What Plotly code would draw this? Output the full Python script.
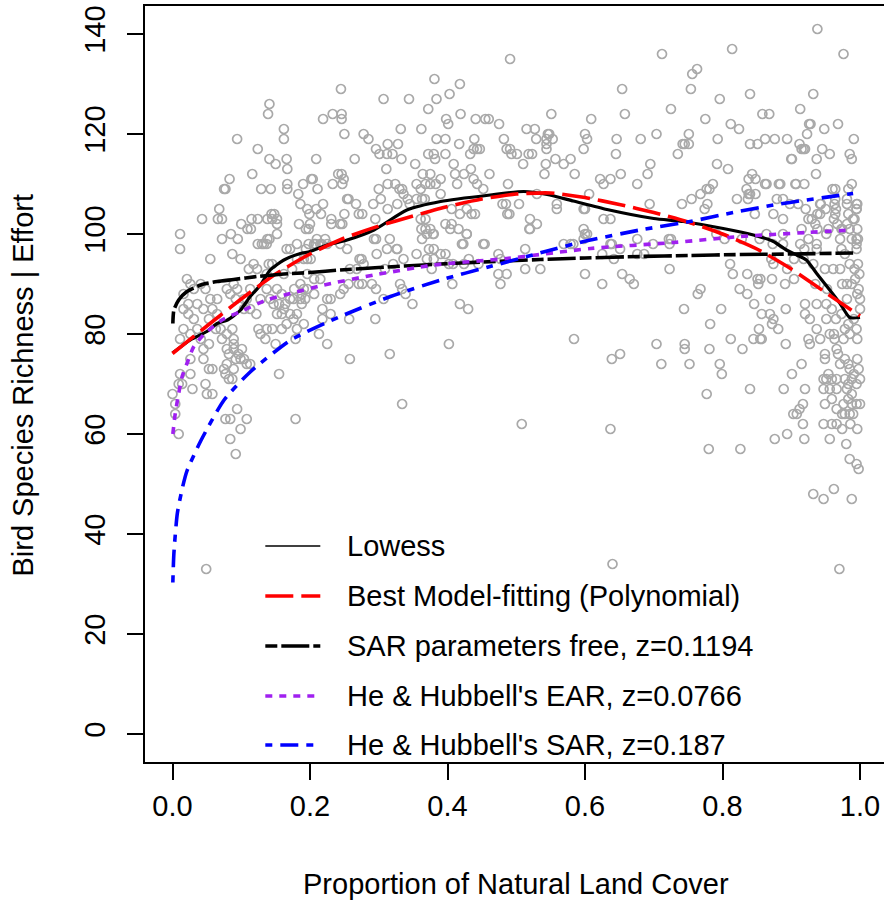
import plotly.graph_objects as go

# ---- survey sites: proportion of natural land cover vs. species richness ----
# upper-left cloud
cover_a = [0.381, 0.245, 0.141, 0.139, 0.307, 0.344, 0.384, 0.372, 0.233, 0.246,
           0.219, 0.246, 0.162, 0.162, 0.094, 0.25, 0.278, 0.285, 0.332, 0.362,
           0.384, 0.124, 0.313, 0.328, 0.296, 0.301, 0.312, 0.32, 0.372, 0.38,
           0.141, 0.15, 0.166, 0.167, 0.209, 0.265, 0.333, 0.382, 0.116, 0.311,
           0.353, 0.083, 0.075, 0.077, 0.129, 0.143, 0.167, 0.167, 0.19, 0.202,
           0.204, 0.211, 0.183, 0.233, 0.241, 0.246, 0.249, 0.247, 0.3, 0.313,
           0.324, 0.33, 0.334, 0.336, 0.355, 0.361, 0.368, 0.375, 0.364, 0.375,
           0.383, 0.068, 0.066, 0.072, 0.043, 0.1, 0.115, 0.124, 0.138, 0.144,
           0.148, 0.145, 0.152, 0.152, 0.109, 0.114, 0.186, 0.196, 0.199, 0.209,
           0.216, 0.2, 0.184, 0.194, 0.219, 0.254, 0.256, 0.267, 0.271, 0.276,
           0.25, 0.231, 0.244, 0.247, 0.231, 0.292, 0.303, 0.313, 0.327, 0.342,
           0.345, 0.355, 0.363, 0.367, 0.295, 0.361, 0.368, 0.362, 0.368, 0.011,
           0.011, 0.072, 0.085, 0.095, 0.138, 0.141, 0.152, 0.124, 0.133, 0.21,
           0.222, 0.208, 0.217, 0.225, 0.296, 0.316, 0.327, 0.379, 0.373, 0.38]
rich_a = [131, 129, 126, 124, 127, 127, 127, 125, 124, 124,
          123, 123, 121, 119, 119, 120, 120, 119, 121, 121,
          119, 117, 118, 118, 117, 116, 116, 116, 116, 116,
          115, 114, 115, 113, 115, 115, 115, 115, 112, 113,
          114, 111, 109, 109, 109, 109, 110, 109, 110, 111,
          111, 109, 108, 110, 112, 112, 111, 110, 109, 110,
          110, 109, 109, 108, 110, 109, 110, 112, 112, 110,
          110, 105, 103, 103, 103, 102, 103, 103, 103, 104,
          104, 103, 103, 102, 101, 101, 106, 105, 104, 105,
          104, 102, 102, 101, 106, 107, 107, 106, 104, 104,
          104, 103, 102, 102, 102, 106, 107, 105, 106, 107,
          106, 107, 107, 107, 103, 103, 103, 101, 101, 100,
          97, 99, 100, 99, 99, 99, 100, 98, 98, 99,
          99, 98, 98, 98, 99, 99, 97, 100, 97, 97]

# upper-right cloud
cover_b = [0.938, 0.712, 0.814, 0.976, 0.491, 0.763, 0.756, 0.754, 0.654, 0.418,
           0.403, 0.796, 0.84, 0.932, 0.725, 0.913, 0.551, 0.658, 0.419, 0.609,
           0.398, 0.401, 0.441, 0.455, 0.46, 0.475, 0.775, 0.858, 0.868, 0.926,
           0.928, 0.968, 0.812, 0.824, 0.948, 0.923, 0.515, 0.527, 0.546, 0.548,
           0.544, 0.553, 0.6, 0.603, 0.704, 0.751, 0.397, 0.439, 0.482, 0.529,
           0.646, 0.681, 0.793, 0.84, 0.851, 0.862, 0.876, 0.894, 0.991, 0.417,
           0.742, 0.745, 0.751, 0.912, 0.915, 0.92, 0.945, 0.956, 0.985, 0.988,
           0.397, 0.433, 0.438, 0.443, 0.447, 0.486, 0.491, 0.493, 0.501, 0.51,
           0.518, 0.523, 0.544, 0.544, 0.557, 0.543, 0.541, 0.569, 0.579, 0.585,
           0.598, 0.645, 0.695, 0.691, 0.652, 0.676, 0.735, 0.792, 0.808, 0.9,
           0.937, 0.936, 0.409, 0.411, 0.414, 0.424, 0.434, 0.438, 0.443, 0.452,
           0.39, 0.39, 0.461, 0.488, 0.622, 0.627, 0.637, 0.606, 0.406, 0.428,
           0.418, 0.435, 0.44, 0.397, 0.406, 0.416, 0.428, 0.48, 0.485, 0.487,
           0.49, 0.504, 0.52, 0.519, 0.53, 0.53, 0.559, 0.559, 0.598, 0.6,
           0.627, 0.637, 0.694, 0.598, 0.6, 0.722, 0.741, 0.755, 0.768, 0.777,
           0.786, 0.781, 0.774, 0.778, 0.821, 0.838, 0.843, 0.848, 0.835, 0.838,
           0.84, 0.848, 0.837, 0.862, 0.864, 0.882, 0.907, 0.919, 0.847, 0.874,
           0.888, 0.879, 0.888, 0.898, 0.91, 0.921, 0.925, 0.938, 0.943, 0.95,
           0.96, 0.964, 0.988, 0.981, 0.996, 0.995, 0.992, 0.964, 0.963, 0.965,
           0.964, 0.962, 0.967, 0.973, 0.985, 0.995, 0.997, 0.915, 0.925, 0.938,
           0.951, 0.954, 0.888, 0.864, 0.828, 0.791, 0.803, 0.699, 0.725, 0.676,
           0.637, 0.569, 0.579, 0.513, 0.452, 0.423]
rich_b = [141, 136, 137, 136, 135, 133, 132, 129, 129, 130,
          128, 127, 128, 128, 125, 125, 124, 124, 124, 123,
          123, 122, 123, 123, 123, 122, 123, 124, 124, 122,
          122, 122, 122, 121, 121, 120, 121, 121, 120, 120,
          119, 119, 120, 119, 120, 120, 119, 119, 119, 119,
          119, 119, 119, 118, 118, 119, 119, 119, 119, 118,
          118, 118, 118, 118, 117, 117, 117, 116, 116, 115,
          116, 116, 117, 117, 117, 117, 117, 116, 116, 114,
          116, 116, 117, 118, 115, 114, 112, 114, 115, 112,
          117, 116, 114, 112, 112, 110, 116, 114, 113, 115,
          115, 112, 114, 112, 110, 112, 113, 111, 110, 109,
          111, 108, 112, 110, 111, 110, 111, 108, 105, 105,
          104, 104, 104, 102, 102, 101, 100, 106, 106, 104,
          104, 106, 103, 101, 102, 108, 106, 105, 105, 105,
          103, 103, 106, 101, 100, 99, 106, 107, 108, 109,
          110, 109, 105, 106, 107, 111, 112, 111, 109, 108,
          108, 108, 107, 110, 110, 110, 110, 110, 104, 104,
          103, 107, 107, 106, 106, 105, 103, 104, 106, 105,
          109, 109, 110, 107, 106, 105, 103, 107, 106, 105,
          104, 103, 102, 101, 101, 99, 99, 101, 99, 101,
          100, 101, 100, 100, 99, 100, 99, 98, 99, 99,
          98, 98, 98, 97, 98, 98]

# sites with almost complete natural cover
cover_c = [0.884, 0.906, 0.983, 0.901, 0.918, 0.942, 0.942, 0.93, 0.935, 0.974,
           0.981, 0.995, 0.995, 0.983, 0.99, 0.981, 0.996, 0.854, 0.873, 0.888,
           0.913, 0.919, 0.937, 0.937, 0.971, 0.973, 0.988, 0.995, 0.995, 0.978,
           0.871, 0.874, 0.894, 0.904, 0.918, 0.932, 0.949, 0.961, 0.971, 0.985,
           0.992, 0.997, 0.999, 0.855, 0.872, 0.904, 0.935, 0.952, 0.974, 0.981,
           0.988, 0.993, 0.998, 0.891, 0.869, 0.857, 0.869, 0.874, 0.872, 0.881,
           0.857, 0.892, 0.892, 0.92, 0.92, 0.927, 0.937, 0.951, 0.959, 0.965,
           0.951, 0.973, 0.925, 0.927, 0.937, 0.942, 0.956, 0.962, 0.963, 0.978,
           0.985, 0.976, 0.996, 0.981, 0.996, 1.0, 1.0, 0.991, 0.983, 0.995,
           0.949, 0.949, 0.966, 0.968, 0.971, 0.978, 0.983, 0.996, 0.998, 0.985,
           0.991, 1.0, 0.915, 0.901, 0.889, 0.92, 0.947, 0.951, 0.954, 0.959,
           0.966, 0.947, 0.956, 0.966, 0.978, 0.983, 0.988, 0.995, 0.981, 0.988,
           0.983, 0.949, 0.959, 0.976, 0.988, 0.995, 1.0, 0.917, 0.912, 0.908,
           0.903, 0.966, 0.974, 0.978, 0.985, 0.99, 0.917, 0.947, 0.959, 0.966,
           0.974, 0.986, 0.996, 0.876, 0.894, 0.919, 0.956, 0.98, 0.985, 0.995,
           0.998, 0.932, 0.947, 0.962, 0.988, 0.97]
rich_c = [110, 110, 109, 115, 117, 106, 104, 103, 102, 101,
          106, 106, 105, 104, 103, 102, 101, 99, 98, 98,
          98, 97, 98, 97, 99, 97, 99, 98, 97, 96,
          95, 94, 93, 95, 95, 94, 93, 93, 93, 94,
          93, 94, 92, 91, 91, 91, 90, 89, 90, 90,
          90, 91, 89, 90, 87, 84, 84, 83, 82, 81,
          79, 85, 78, 86, 84, 83, 86, 86, 85, 83,
          83, 84, 79, 78, 81, 79, 80, 80, 79, 81,
          80, 79, 79, 87, 88, 87, 85, 83, 82, 81,
          76, 75, 77, 76, 74, 75, 74, 75, 73, 73,
          72, 71, 74, 72, 69, 69, 71, 71, 72, 71,
          71, 69, 69, 69, 71, 70, 71, 70, 69, 68,
          67, 66, 67, 66, 66, 66, 66, 66, 65, 64,
          64, 65, 64, 64, 64, 64, 62, 62, 62, 62,
          61, 62, 61, 59, 60, 59, 59, 58, 55, 54,
          53, 48, 47, 49, 47, 33]

# middle band
cover_d = [0.428, 0.404, 0.421, 0.454, 0.52, 0.583, 0.603, 0.598, 0.639, 0.651,
           0.686, 0.676, 0.723, 0.39, 0.397, 0.402, 0.408, 0.424, 0.431, 0.445,
           0.474, 0.477, 0.474, 0.486, 0.477, 0.513, 0.535, 0.625, 0.642, 0.6,
           0.625, 0.654, 0.665, 0.671, 0.723, 0.407, 0.418, 0.43, 0.402, 0.584,
           0.639, 0.651, 0.704, 0.711, 0.745, 0.745, 0.752, 0.744, 0.764, 0.768,
           0.782, 0.781, 0.798, 0.796, 0.799, 0.777, 0.811, 0.815, 0.836, 0.851,
           0.852, 0.836, 0.825, 0.846, 0.853, 0.845, 0.855, 0.812, 0.829, 0.84,
           0.826, 0.78, 0.508, 0.637, 0.64]
rich_d = [100, 101, 98, 98, 101, 98, 100, 99, 98, 97,
          96, 96, 98, 96, 96, 94, 94, 94, 95, 94,
          96, 95, 92, 92, 90, 93, 93, 96, 95, 92,
          90, 92, 91, 90, 93, 90, 86, 85, 78, 79,
          75, 76, 78, 74, 78, 77, 74, 85, 88, 89,
          82, 77, 85, 74, 72, 68, 94, 92, 92, 91,
          90, 88, 89, 86, 81, 79, 79, 79, 77, 69,
          57, 57, 62, 61, 34]

# dense low-cover cluster
cover_e = [0.055, 0.087, 0.099, 0.118, 0.13, 0.137, 0.166, 0.171, 0.181, 0.198,
           0.198, 0.196, 0.181, 0.111, 0.123, 0.137, 0.14, 0.145, 0.021, 0.026,
           0.031, 0.016, 0.041, 0.048, 0.055, 0.065, 0.084, 0.079, 0.089, 0.094,
           0.092, 0.104, 0.108, 0.113, 0.113, 0.122, 0.104, 0.128, 0.137, 0.142,
           0.147, 0.152, 0.159, 0.164, 0.171, 0.176, 0.186, 0.188, 0.155, 0.162,
           0.152, 0.159, 0.171, 0.181, 0.176, 0.137, 0.125, 0.145, 0.128, 0.135,
           0.159, 0.166, 0.181, 0.179, 0.191, 0.188, 0.193, 0.196, 0.186, 0.196,
           0.016, 0.023, 0.036, 0.023, 0.031, 0.036, 0.016, 0.045, 0.058, 0.065,
           0.053, 0.063, 0.07, 0.011, 0.026, 0.041, 0.045, 0.045, 0.026, 0.053,
           0.072, 0.079, 0.087, 0.089, 0.089, 0.089, 0.079, 0.082, 0.092, 0.096,
           0.101, 0.104, 0.108, 0.113, 0.099, 0.079, 0.075, 0.089, 0.053, 0.058,
           0.077, 0.082, 0.087, 0.048, 0.05, 0.058, 0.011, 0.026, 0.009, 0.014,
           0.029, 0.0, 0.004, 0.004, 0.009, 0.094, 0.077, 0.084, 0.108, 0.099,
           0.084, 0.155, 0.179, 0.15, 0.092, 0.049]
rich_e = [95, 96, 95, 94, 98, 98, 97, 97, 98, 101,
          98, 95, 95, 93, 93, 92, 94, 94, 91, 90,
          89, 88, 90, 89, 87, 87, 88, 89, 90, 89,
          87, 87, 87, 89, 85, 84, 85, 87, 89, 87,
          86, 89, 88, 86, 87, 87, 87, 88, 86, 85,
          84, 84, 84, 84, 83, 81, 81, 81, 80, 79,
          81, 82, 81, 79, 82, 86, 87, 89, 90, 92,
          85, 86, 86, 84, 83, 81, 81, 85, 85, 84,
          83, 81, 81, 79, 80, 79, 77, 75, 75, 78,
          79, 80, 81, 79, 78, 77, 77, 76, 75, 76,
          77, 75, 74, 74, 75, 74, 73, 73, 73, 73,
          72, 71, 71, 70, 68, 68, 72, 72, 70, 70,
          69, 68, 66, 64, 60, 65, 63, 63, 63, 61,
          59, 72, 63, 78, 56, 33]

cover_f = [0.258, 0.316, 0.334, 0.295, 0.225, 0.213, 0.349, 0.331, 0.339, 0.334,
           0.257, 0.307, 0.244, 0.23, 0.218, 0.23, 0.218, 0.296, 0.29, 0.276,
           0.271, 0.256, 0.249, 0.225, 0.206, 0.206, 0.215, 0.162, 0.177, 0.191,
           0.174, 0.272, 0.275, 0.268, 0.278, 0.258, 0.309, 0.321, 0.336, 0.355,
           0.37, 0.38, 0.377, 0.297, 0.312, 0.326, 0.293, 0.244, 0.254, 0.363,
           0.37, 0.375, 0.38, 0.191, 0.201, 0.194, 0.206, 0.215]
rich_f = [75, 76, 66, 83, 78, 80, 86, 90, 88, 89,
          83, 87, 88, 87, 85, 84, 83, 89, 90, 90,
          90, 90, 89, 87, 88, 91, 91, 92, 89, 89,
          93, 95, 95, 93, 94, 93, 93, 94, 95, 96,
          95, 95, 93, 96, 97, 97, 99, 98, 97, 99,
          100, 101, 100, 95, 95, 97, 98, 98]

cover = cover_a + cover_b + cover_c + cover_d + cover_e + cover_f
richness = rich_a + rich_b + rich_c + rich_d + rich_e + rich_f
assert len(cover) == len(richness)

# ---- fitted curves ----
lowess_x = [0.0, 0.026, 0.05, 0.065, 0.08, 0.099, 0.113, 0.128, 0.142, 0.162,
            0.186, 0.2, 0.225, 0.254, 0.293, 0.341, 0.39, 0.462, 0.511, 0.545,
            0.583, 0.632, 0.70, 0.743, 0.801, 0.845, 0.874, 0.893, 0.908, 0.922,
            0.937, 0.956, 0.971, 0.985, 1.0]
lowess_y = [76.2, 78.8, 80.5, 82.1, 82.8, 84.8, 87.5, 89.8, 92.8, 94.8,
            96.1, 96.5, 97.8, 98.8, 100.8, 104.8, 106.5, 107.8, 108.5, 107.9,
            106.6, 104.9, 103.1, 102.5, 101.1, 99.8, 98.5, 96.8, 95.8, 94.8,
            92.1, 88.8, 86.1, 83.3, 83.3]

poly_x = [0.0, 0.05, 0.1, 0.15, 0.2, 0.25, 0.3, 0.35, 0.4, 0.45, 0.5,
          0.55, 0.6, 0.65, 0.7, 0.75, 0.8, 0.85, 0.9, 0.95, 1.0]
poly_y = [76.1, 81.6, 87.0, 92.0, 96.0, 99.2, 101.6, 103.6, 105.5, 107.0, 108.0,
          108.2, 107.3, 105.9, 104.3, 102.4, 100.0, 97.0, 93.0, 88.3, 83.6]

sar_free_x = [0.0005, 0.002, 0.009, 0.021, 0.041, 0.065, 0.089, 0.123, 0.162, 0.2,
              0.244, 0.3, 0.39, 0.45, 0.535, 0.6, 0.68, 0.75, 0.826, 0.9, 0.99]
sar_free_y = [82.1, 84.8, 86.8, 88.5, 89.8, 90.5, 90.9, 91.5, 92.0, 92.3,
              92.8, 93.3, 94.0, 94.4, 94.9, 95.2, 95.5, 95.7, 95.9, 96.0, 96.2]

ear_x = [0.0005, 0.004, 0.009, 0.014, 0.021, 0.031, 0.045, 0.072, 0.099, 0.137,
         0.171, 0.22, 0.293, 0.38, 0.486, 0.608, 0.729, 0.826, 0.922, 0.99]
ear_y = [60.0, 64.1, 68.1, 71.5, 74.1, 77.5, 79.8, 82.8, 84.5, 86.8,
         88.1, 89.8, 91.8, 93.8, 95.1, 97.1, 98.3, 99.5, 100.3, 100.8]

sar_x = [0.0005, 0.002, 0.007, 0.014, 0.021, 0.041, 0.075, 0.113, 0.172, 0.244,
         0.317, 0.39, 0.462, 0.545, 0.598, 0.68, 0.753, 0.816, 0.874, 0.922, 0.99]
sar_y = [30.3, 36.1, 44.1, 49.0, 52.6, 58.6, 66.8, 72.4, 78.8, 83.5,
         87.5, 90.8, 93.5, 96.6, 98.5, 100.8, 102.5, 104.3, 105.8, 106.8, 108.1]

legend_labels = ["Lowess", "Best Model-fitting (Polynomial)",
                 "SAR parameters free, z=0.1194",
                 "He & Hubbell's EAR, z=0.0766",
                 "He & Hubbell's SAR, z=0.187"]

FONT = "Liberation Sans, Arial, Helvetica, sans-serif"
TXT = 29
curve_styles = [
    dict(color="black", width=3.2, dash="solid"),
    dict(color="#FF0000", width=3.6, dash="28px,8px"),
    dict(color="black", width=3.6, dash="12px,4px,28px,4px"),
    dict(color="#A020F0", width=3.6, dash="7px,7px"),
    dict(color="#0000FF", width=3.6, dash="7px,8px,18px,8px"),
]
curves = [(lowess_x, lowess_y), (poly_x, poly_y), (sar_free_x, sar_free_y),
          (ear_x, ear_y), (sar_x, sar_y)]

fig = go.Figure()
fig.add_trace(go.Scatter(
    x=cover, y=richness, mode="markers", showlegend=False,
    marker=dict(symbol="circle-open", size=9, color="#A9A9A9",
                line=dict(width=1.7, color="#A9A9A9")),
))
for (cx, cy), style, name in zip(curves, curve_styles, legend_labels):
    fig.add_trace(go.Scatter(x=cx, y=cy, mode="lines", name=name, showlegend=False,
                             line=dict(shape="spline", smoothing=0.6, **style)))

# hand-placed legend, like R's legend() without a box
legend_rows = [37.6, 27.6, 17.6, 7.6, -2.2]
for i, (label, row) in enumerate(zip(legend_labels, legend_rows)):
    st = curve_styles[i]
    fig.add_shape(type="line", xref="x", yref="y", x0=0.135, x1=0.215, y0=row, y1=row,
                  line=dict(color=st["color"], width=1.3 if i == 0 else st["width"],
                            dash=st["dash"]))
    fig.add_annotation(x=0.2515, y=row, xref="x", yref="y", text=label, showarrow=False,
                       xanchor="left", yanchor="middle",
                       font=dict(family=FONT, size=TXT, color="black"))

fig.add_annotation(x=0.5024, y=-0.1614, xref="paper", yref="paper",
                   text="Proportion of Natural Land Cover", showarrow=False,
                   xanchor="center", yanchor="middle",
                   font=dict(family=FONT, size=TXT, color="black"))
fig.add_annotation(x=-0.1657, y=0.4987, xref="paper", yref="paper",
                   text="Bird Species Richness | Effort", showarrow=False, textangle=-90,
                   xanchor="center", yanchor="middle",
                   font=dict(family=FONT, size=TXT, color="black"))

fig.update_layout(
    width=884, height=901,
    margin=dict(l=144.5, r=0, t=6, b=139),
    plot_bgcolor="white", paper_bgcolor="white",
    font=dict(family=FONT, size=TXT, color="black"),
    showlegend=False,
)
fig.update_xaxes(
    range=[-0.04, 1.0349], tickvals=[0, 0.2, 0.4, 0.6, 0.8, 1.0], tickformat=".1f",
    showgrid=False, zeroline=False, showline=True, mirror=True,
    linecolor="black", linewidth=1.8,
    ticks="outside", ticklen=16, tickwidth=1.5, tickcolor="black",
    ticklabelstandoff=1, automargin=False,
)
fig.update_yaxes(
    range=[-5.6, 145.6], tickvals=[0, 20, 40, 60, 80, 100, 120, 140], tickangle=-90,
    showgrid=False, zeroline=False, showline=True, mirror=False,
    linecolor="black", linewidth=1.8,
    ticks="outside", ticklen=16, tickwidth=1.5, tickcolor="black",
    ticklabelstandoff=11, automargin=False,
)

# the page's default 8px body margin would shift the whole figure
fig.write_html("out.html", config={"displayModeBar": False},
               post_script="document.body.style.margin = '0px';")
